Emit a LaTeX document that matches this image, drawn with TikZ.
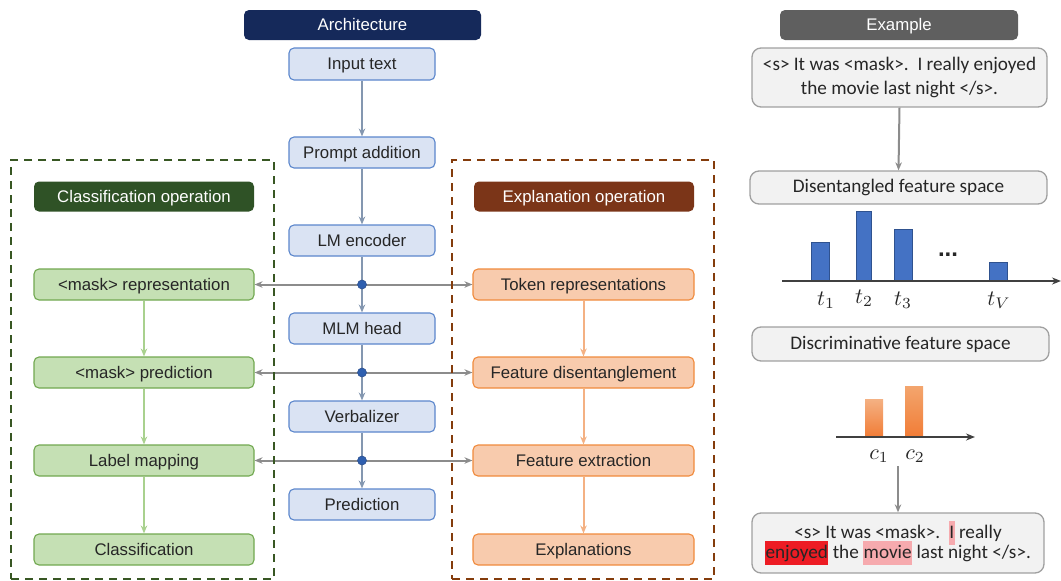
\documentclass[tikz,border=0pt]{standalone}
\usepackage{fontspec}
\setmainfont{Liberation Sans}
\newfontfamily\calibrifont{Carlito}
\usetikzlibrary{arrows.meta,backgrounds}
\definecolor{txt}{HTML}{262626}
\definecolor{navy}{HTML}{15295A}
\definecolor{bfill}{HTML}{DAE3F3}
\definecolor{bdraw}{HTML}{5B86CC}
\definecolor{bline}{HTML}{8497B0}
\definecolor{ghdr}{HTML}{2F5226}
\definecolor{gfill}{HTML}{C5E0B4}
\definecolor{gdraw}{HTML}{71A850}
\definecolor{gline}{HTML}{A9D18E}
\definecolor{gframe}{HTML}{385723}
\definecolor{ohdr}{HTML}{7B3518}
\definecolor{ofill}{HTML}{F8CBAD}
\definecolor{odraw}{HTML}{F08A3C}
\definecolor{oline}{HTML}{F4B183}
\definecolor{oframe}{HTML}{843C0C}
\definecolor{grayline}{HTML}{8C8C8C}
\definecolor{exhdr}{HTML}{5F5F5F}
\definecolor{exfill}{HTML}{F2F2F2}
\definecolor{exdraw}{HTML}{A0A0A0}
\definecolor{dotfill}{HTML}{2E5FAF}
\definecolor{barfill}{HTML}{4472C4}
\definecolor{bardraw}{HTML}{2F528F}
\definecolor{axisc}{HTML}{404040}
\definecolor{redhl}{HTML}{ED1C24}
\definecolor{pinkhl}{HTML}{F6AAAE}
\newcommand\hlbox[2]{{\setlength{\fboxsep}{0.5pt}\colorbox{#1}{\rule[-6pt]{0pt}{23pt}#2}}}
\tikzset{
  box/.style={rounded corners=5pt, draw, line width=1.1pt, inner sep=0pt, text=txt,
    text height=14pt, text depth=2.2pt, font=\fontsize{16.8}{19}\selectfont},
  bluebox/.style={box, fill=bfill, draw=bdraw, minimum width=146pt, minimum height=31pt},
  greenbox/.style={box, fill=gfill, draw=gdraw, minimum width=220pt, minimum height=31pt},
  orangebox/.style={box, fill=ofill, draw=odraw, minimum width=221pt, minimum height=31pt},
  hdr/.style={rounded corners=5pt, inner sep=0pt, text=white, minimum height=30pt,
    text height=14pt, text depth=2.2pt, font=\fontsize{16.8}{19}\selectfont},
  exbox/.style={rounded corners=9pt, draw=exdraw, fill=exfill, line width=1.3pt, inner sep=0pt,
    text=txt, align=center, font=\calibrifont\fontsize{19.2}{24}\selectfont},
  dotnode/.style={circle, fill=dotfill, draw=bardraw, line width=0.6pt, inner sep=0pt, minimum size=9pt},
  barc/.style={fill=barfill, draw=bardraw, line width=0.9pt},
  blinearr/.style={draw=bline, line width=2pt, -{Stealth[length=8pt,width=6.5pt]}},
  blineplain/.style={draw=bline, line width=2pt},
  grayarr/.style={draw=grayline, line width=2pt, -{Stealth[length=8pt,width=6.5pt]}},
  greenarr/.style={draw=gline, line width=2pt, -{Stealth[length=8pt,width=6.5pt]}},
  orangearr/.style={draw=oline, line width=2pt, -{Stealth[length=8pt,width=6.5pt]}},
  framebox/.style={dashed, line width=2pt, dash pattern=on 8pt off 6pt, inner sep=0pt},
  axisarr/.style={draw=axisc, line width=2pt, -{Stealth[length=9pt,width=7pt]}},
  mathlbl/.style={scale=2.2, text=txt, inner sep=0pt}
}
\begin{document}
\begin{tikzpicture}[x=1pt,y=-1pt]
\useasboundingbox (0,0) rectangle (1061,581);
% frames
\node[framebox, draw=gframe, minimum width=263pt, minimum height=419pt] (gfr) at (142.5,369.5) {};
\node[framebox, draw=oframe, minimum width=262pt, minimum height=419pt] (ofr) at (583,369.5) {};
% headers
\node[hdr, fill=navy, minimum width=237pt] (arch) at (362.5,25) {Architecture};
\node[hdr, fill=ghdr, minimum width=220pt] (chdr) at (144,196.5) {Classification operation};
\node[hdr, fill=ohdr, minimum width=220pt] (ehdr) at (584,196.5) {Explanation operation};
\node[hdr, fill=exhdr, minimum width=238pt] (exh) at (899,25) {Example};
% architecture column
\node[bluebox, minimum height=32pt] (inp) at (362,64) {Input text};
\node[bluebox] (pa) at (362,152.5) {Prompt addition};
\node[bluebox] (lm) at (362,240.5) {LM encoder};
\node[bluebox] (mlm) at (362,328.5) {MLM head};
\node[bluebox] (verb) at (362,416.5) {Verbalizer};
\node[bluebox] (pred) at (362,504.5) {Prediction};
\node[dotnode] (d1) at (362,284.5) {};
\node[dotnode] (d2) at (362,372.5) {};
\node[dotnode] (d3) at (362,460.5) {};
% classification column
\node[greenbox] (mrep) at (144,284.5) {<mask> representation};
\node[greenbox] (mpred) at (144,372.5) {<mask> prediction};
\node[greenbox] (lab) at (144,460.5) {Label mapping};
\node[greenbox] (cls) at (144,549.5) {Classification};
% explanation column
\node[orangebox] (tok) at (583.5,284.5) {Token representations};
\node[orangebox] (fd) at (583.5,372.5) {Feature disentanglement};
\node[orangebox] (fe) at (583.5,460.5) {Feature extraction};
\node[orangebox] (expl) at (583.5,549.5) {Explanations};
% connectors
\begin{scope}[on background layer]
\draw[blinearr] (inp.south) -- (pa.north);
\draw[blinearr] (pa.south) -- (lm.north);
\draw[blineplain] (lm.south) -- (d1.center);
\draw[blinearr] (d1.center) -- (mlm.north);
\draw[blineplain] (mlm.south) -- (d2.center);
\draw[blinearr] (d2.center) -- (verb.north);
\draw[blineplain] (verb.south) -- (d3.center);
\draw[blinearr] (d3.center) -- (pred.north);
\draw[grayarr] (d1.center) -- (mrep.east);
\draw[grayarr] (d1.center) -- (tok.west);
\draw[grayarr] (d2.center) -- (mpred.east);
\draw[grayarr] (d2.center) -- (fd.west);
\draw[grayarr] (d3.center) -- (lab.east);
\draw[grayarr] (d3.center) -- (fe.west);
\end{scope}
\draw[greenarr] (mrep.south) -- (mpred.north);
\draw[greenarr] (mpred.south) -- (lab.north);
\draw[greenarr] (lab.south) -- (cls.north);
\draw[orangearr] (tok.south) -- (fd.north);
\draw[orangearr] (fd.south) -- (fe.north);
\draw[orangearr] (fe.south) -- (expl.north);
% example column
\node[exbox, minimum width=295pt, minimum height=59pt] (s1) at (899.5,77.5)
  {<s> It was <mask>.~~I really enjoyed\\the movie last night </s>.};
\node[exbox, minimum width=297pt, minimum height=33pt] (dis) at (898.5,187.5) {Disentangled feature space};
\node[exbox, minimum width=297pt, minimum height=34pt] (disc) at (900.5,344) {Discriminative feature space};
\node[exbox, minimum width=292pt, minimum height=60pt] (res) at (898,543)
  {<s> It was <mask>.~~\hlbox{pinkhl}{I} really\\[-4pt]\hlbox{redhl}{enjoyed} the \hlbox{pinkhl}{movie} last night </s>.};
\draw[grayarr] (s1.south) -- (dis.north);
% bar chart 1
\coordinate (ax1s) at (782,281);
\coordinate (ax1e) at (1061,281);
\draw[barc] (811,281) rectangle (829,242);
\draw[barc] (856,281) rectangle (871,211);
\draw[barc] (894,281) rectangle (912,229);
\draw[barc] (989,281) rectangle (1007,262);
\draw[axisarr] (ax1s) -- (ax1e);
\node[text=txt, inner sep=0pt, font=\fontsize{24}{26}\selectfont\bfseries] (dots) at (948,255) {...};
\node[mathlbl] (t1) at (826,300) {$t_1$};
\node[mathlbl] (t2) at (864,298) {$t_2$};
\node[mathlbl] (t3) at (903,300) {$t_3$};
\node[mathlbl] (tv) at (999,300) {$t_V$};
% bar chart 2
\coordinate (ax2s) at (836,437);
\coordinate (ax2e) at (975,437);
\shade[top color=oline, bottom color=odraw!90!red] (865,437) rectangle (883,399);
\shade[top color=oline!70!odraw, bottom color=odraw!90!red] (905,437) rectangle (923,386);
\draw[axisarr] (ax2s) -- (ax2e);
\node[mathlbl] (c1) at (879,456) {$c_1$};
\node[mathlbl] (c2) at (915,456) {$c_2$};
\coordinate (arr2s) at (898,466);
\draw[grayarr] (arr2s) -- (res.north);
\end{tikzpicture}
\end{document}
